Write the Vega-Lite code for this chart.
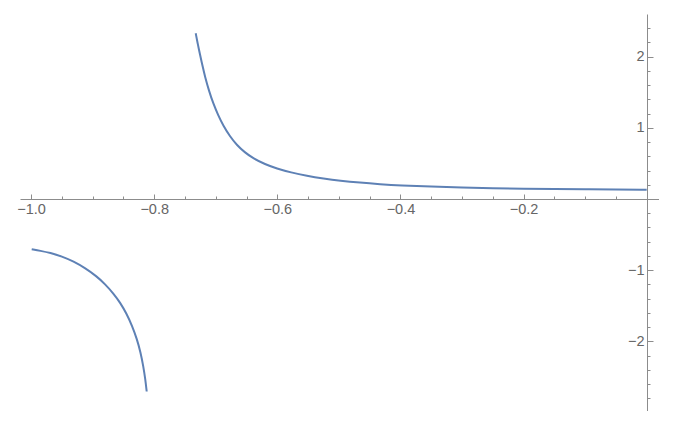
{
  "$schema": "https://vega.github.io/schema/vega-lite/v6.json",
  "width": 639,
  "height": 397,
  "autosize": {"type": "none"},
  "padding": {"left": 20, "top": 14, "right": 0, "bottom": 0},
  "background": "white",
  "config": {"view": {"stroke": null}, "axis": {"grid": false, "labelFont": "Liberation Sans", "labelFontSize": 14.5, "labelColor": "#666666", "domainColor": "#8c8c8c", "tickColor": "#8c8c8c", "domainWidth": 1, "tickWidth": 1}},
  "data": {"values": [
    {"branch": "left", "x": -0.999, "y": -0.706},
    {"branch": "left", "x": -0.985, "y": -0.728},
    {"branch": "left", "x": -0.969, "y": -0.757},
    {"branch": "left", "x": -0.95, "y": -0.807},
    {"branch": "left", "x": -0.931, "y": -0.878},
    {"branch": "left", "x": -0.912, "y": -0.972},
    {"branch": "left", "x": -0.893, "y": -1.09},
    {"branch": "left", "x": -0.88, "y": -1.195},
    {"branch": "left", "x": -0.866, "y": -1.33},
    {"branch": "left", "x": -0.855, "y": -1.46},
    {"branch": "left", "x": -0.845, "y": -1.61},
    {"branch": "left", "x": -0.836, "y": -1.78},
    {"branch": "left", "x": -0.828, "y": -1.97},
    {"branch": "left", "x": -0.822, "y": -2.16},
    {"branch": "left", "x": -0.8177, "y": -2.35},
    {"branch": "left", "x": -0.8145, "y": -2.53},
    {"branch": "left", "x": -0.8122, "y": -2.706},
    {"branch": "right", "x": -0.7326, "y": 2.33},
    {"branch": "right", "x": -0.729, "y": 2.17},
    {"branch": "right", "x": -0.7256, "y": 2.03},
    {"branch": "right", "x": -0.7215, "y": 1.87},
    {"branch": "right", "x": -0.7175, "y": 1.72},
    {"branch": "right", "x": -0.711, "y": 1.52},
    {"branch": "right", "x": -0.704, "y": 1.34},
    {"branch": "right", "x": -0.696, "y": 1.175},
    {"branch": "right", "x": -0.6878, "y": 1.03},
    {"branch": "right", "x": -0.677, "y": 0.88},
    {"branch": "right", "x": -0.666, "y": 0.76},
    {"branch": "right", "x": -0.653, "y": 0.655},
    {"branch": "right", "x": -0.639, "y": 0.57},
    {"branch": "right", "x": -0.62, "y": 0.488},
    {"branch": "right", "x": -0.601, "y": 0.428},
    {"branch": "right", "x": -0.578, "y": 0.373},
    {"branch": "right", "x": -0.552, "y": 0.325},
    {"branch": "right", "x": -0.525, "y": 0.287},
    {"branch": "right", "x": -0.498, "y": 0.256},
    {"branch": "right", "x": -0.466, "y": 0.229},
    {"branch": "right", "x": -0.433, "y": 0.208},
    {"branch": "right", "x": -0.4, "y": 0.191},
    {"branch": "right", "x": -0.35, "y": 0.173},
    {"branch": "right", "x": -0.3, "y": 0.161},
    {"branch": "right", "x": -0.25, "y": 0.152},
    {"branch": "right", "x": -0.2, "y": 0.145},
    {"branch": "right", "x": -0.15, "y": 0.14},
    {"branch": "right", "x": -0.1, "y": 0.136},
    {"branch": "right", "x": -0.05, "y": 0.133},
    {"branch": "right", "x": 0.0, "y": 0.13}
  ]},
  "layer": [
    {
      "mark": {"type": "line", "opacity": 0},
      "encoding": {
        "x": {"field": "x", "type": "quantitative", "scale": {"domain": [-1.018, 0.02], "nice": false, "zero": false},
          "axis": {"title": null, "orient": "bottom", "offset": -212, "domain": false, "labels": false, "tickSize": -3,
            "values": [-0.95, -0.9, -0.85, -0.75, -0.7, -0.65, -0.55, -0.5, -0.45, -0.35, -0.3, -0.25, -0.15, -0.1, -0.05]}},
        "y": {"field": "y", "type": "quantitative", "scale": {"domain": [-2.98, 2.6], "nice": false, "zero": false},
          "axis": {"title": null, "orient": "left", "offset": -627, "domain": false, "labels": false, "tickSize": -3,
            "values": [-2.8, -2.6, -2.4, -2.2, -1.8, -1.6, -1.4, -1.2, -0.8, -0.6, -0.4, -0.2, 0.2, 0.4, 0.6, 0.8, 1.2, 1.4, 1.6, 1.8, 2.2, 2.4]}},
        "detail": {"field": "branch"}
      }
    },
    {
      "mark": {"type": "line", "color": "#5E81B5", "strokeWidth": 2, "interpolate": "basis"},
      "encoding": {
        "x": {"field": "x", "type": "quantitative",
          "axis": {"title": null, "orient": "bottom", "offset": -212, "tickSize": -5, "labelPadding": 8, "format": ".1f",
            "values": [-1.0, -0.8, -0.6, -0.4, -0.2]}},
        "y": {"field": "y", "type": "quantitative",
          "axis": {"title": null, "orient": "left", "offset": -627, "tickSize": -6, "labelPadding": 9, "format": "d",
            "values": [-2, -1, 1, 2]}},
        "detail": {"field": "branch"}
      }
    }
  ],
  "resolve": {"axis": {"x": "independent", "y": "independent"}}
}
